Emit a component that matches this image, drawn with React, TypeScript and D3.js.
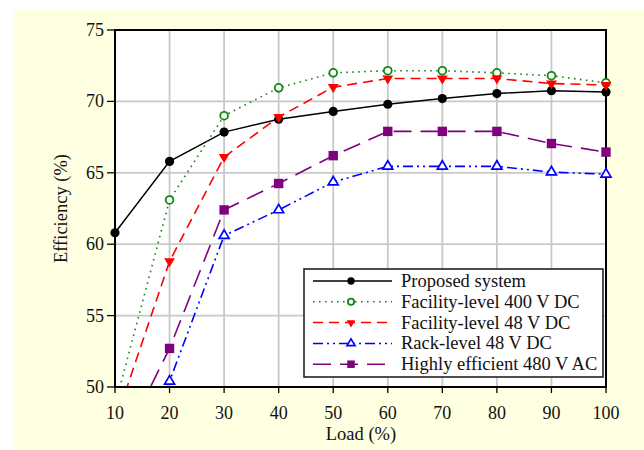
import React from "react";
import * as d3 from "d3";

const loads = [10, 20, 30, 40, 50, 60, 70, 80, 90, 100];
const proposed = [60.8, 65.8, 67.85, 68.75, 69.3, 69.8, 70.2, 70.55, 70.75, 70.65];
const fac400 = [48.7, 63.1, 69.0, 70.95, 72.0, 72.15, 72.15, 72.0, 71.8, 71.3];
const fac48 = [47.5, 58.8, 66.1, 68.9, 71.0, 71.6, 71.6, 71.6, 71.25, 71.15];
const rack48 = [41.0, 50.4, 60.6, 62.4, 64.35, 65.45, 65.45, 65.45, 65.05, 64.9];
const ac480 = [45.0, 52.7, 62.4, 64.25, 66.2, 67.9, 67.9, 67.9, 67.05, 66.45];
const xTicks = [10, 20, 30, 40, 50, 60, 70, 80, 90, 100];
const yTicks = [50, 55, 60, 65, 70, 75];

type Marker = "circle" | "ocircle" | "tdown" | "otup" | "square";
const series: { name: string; values: number[]; color: string; dash: string; marker: Marker }[] = [
  { name: "Proposed system", values: proposed, color: "#000000", dash: "none", marker: "circle" },
  { name: "Facility-level 400 V DC", values: fac400, color: "#118811", dash: "1.6,4.4", marker: "ocircle" },
  { name: "Facility-level 48 V DC", values: fac48, color: "#ff0000", dash: "10,6", marker: "tdown" },
  { name: "Rack-level 48 V DC", values: rack48, color: "#0000ff", dash: "10,4,2,4,2,4", marker: "otup" },
  { name: "Highly efficient 480 V AC", values: ac480, color: "#800080", dash: "18,9", marker: "square" },
];

const W = 644, H = 450;
const x = d3.scaleLinear().domain([10, 100]).range([115, 606]);
const y = d3.scaleLinear().domain([50, 75]).range([387, 30]);
const FONT = "'Liberation Serif', 'Times New Roman', serif";

function MarkerShape({ m, cx, cy, color, s }: { m: Marker; cx: number; cy: number; color: string; s: number }) {
  if (m === "circle") return <circle cx={cx} cy={cy} r={4.6 * s} fill={color} />;
  if (m === "ocircle") return <circle cx={cx} cy={cy} r={3.9 * s} fill="white" stroke={color} strokeWidth={1.8} />;
  if (m === "square") return <rect x={cx - 4.7 * s} y={cy - 4.7 * s} width={9.4 * s} height={9.4 * s} fill={color} />;
  if (m === "tdown") {
    const w = 5.4 * s, h = 9 * s;
    return <path d={`M${cx - w},${cy - h / 3}L${cx + w},${cy - h / 3}L${cx},${cy + (2 * h) / 3}Z`} fill={color} />;
  }
  const w = 5 * s, h = 8.4 * s;
  return <path d={`M${cx - w},${cy + h / 3}L${cx + w},${cy + h / 3}L${cx},${cy - (2 * h) / 3}Z`} fill="white" stroke={color} strokeWidth={1.7} />;
}

export default function App() {
  const line = d3.line<number>().x((_, i) => x(loads[i])).y((v) => y(v));
  const [x0, x1] = x.range();
  const [y0, y1] = y.range();
  const legX = 304, legY = 269, legW = 299, legH = 108;
  const rowY = (i: number) => 281 + i * 20.8;
  return (
    <svg width={W} height={H} style={{ position: "absolute", left: 0, top: 0, display: "block" }} fontFamily={FONT}>
      <rect x={0} y={0} width={W} height={H} fill="white" />
      <rect x={13} y={10} width={W - 13} height={H - 10} fill="#FFFFE1" />
      <defs>
        <clipPath id="plotclip">
          <rect x={x0} y={y1} width={x1 - x0} height={y0 - y1} />
        </clipPath>
      </defs>
      <rect x={x0} y={y1} width={x1 - x0} height={y0 - y1} fill="white" />
      {xTicks.map((t) => (
        <line key={"gx" + t} x1={x(t)} x2={x(t)} y1={y1} y2={y0} stroke="#c8c8c8" strokeWidth={1.8} />
      ))}
      {yTicks.map((t) => (
        <line key={"gy" + t} x1={x0} x2={x1} y1={y(t)} y2={y(t)} stroke="#c8c8c8" strokeWidth={1.8} />
      ))}
      <g clipPath="url(#plotclip)">
        {series.map((s) => (
          <path key={s.name} d={line(s.values) || ""} fill="none" stroke={s.color} strokeWidth={s.marker === "circle" ? 1.5 : 1.6} strokeDasharray={s.dash} />
        ))}
      </g>
      <rect x={x0} y={y1} width={x1 - x0} height={y0 - y1} fill="none" stroke="black" strokeWidth={2} />
      {series.map((s) =>
        s.values.map((v, i) =>
          v >= 50 && v <= 75 ? <MarkerShape key={s.name + i} m={s.marker} cx={x(loads[i])} cy={y(v)} color={s.color} s={1} /> : null
        )
      )}
      {xTicks.map((t) => (
        <g key={"tx" + t}>
          <line x1={x(t)} x2={x(t)} y1={y0} y2={y0 + 6} stroke="black" strokeWidth={1.3} />
          <text x={x(t)} y={419} fontSize={18} textAnchor="middle" fill="#111">{t}</text>
        </g>
      ))}
      {yTicks.map((t) => (
        <g key={"ty" + t}>
          <line x1={x0 - 8} x2={x0} y1={y(t)} y2={y(t)} stroke="black" strokeWidth={1.3} />
          <text x={104} y={y(t) + 6} fontSize={18} textAnchor="end" fill="#111">{t}</text>
        </g>
      ))}
      <text x={361} y={440} fontSize={18.5} textAnchor="middle" fill="#111">Load (%)</text>
      <text transform={`translate(67,${(y0 + y1) / 2}) rotate(-90)`} fontSize={18.5} textAnchor="middle" fill="#111">Efficiency (%)</text>
      <rect x={legX} y={legY} width={legW} height={legH} fill="white" stroke="#222" strokeWidth={1.6} />
      {series.map((s, i) => (
        <g key={"leg" + s.name}>
          <line x1={313} x2={392} y1={rowY(i)} y2={rowY(i)} stroke={s.color} strokeWidth={1.5} strokeDasharray={s.dash} />
          <MarkerShape m={s.marker} cx={351} cy={rowY(i)} color={s.color} s={0.8} />
          <text x={401} y={rowY(i) + 6} fontSize={18.5} fill="#111">{s.name}</text>
        </g>
      ))}
    </svg>
  );
}
